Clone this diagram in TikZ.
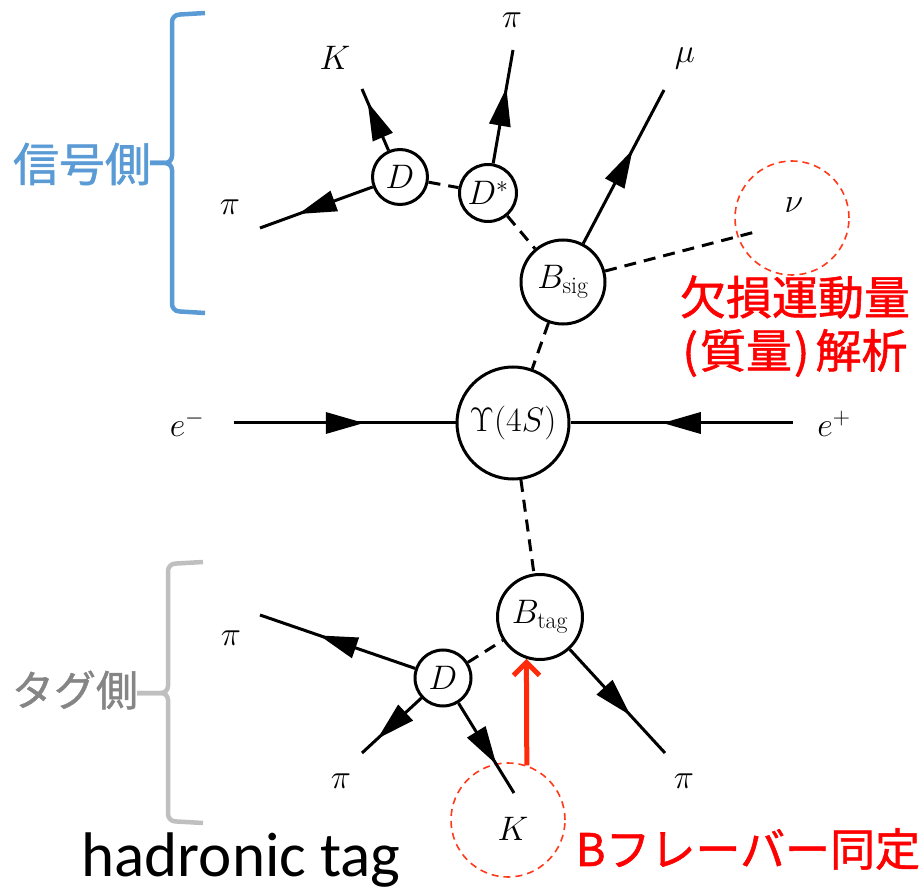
\RequirePackage{fix-cm}
\documentclass[tikz,border=0pt]{standalone}
\usepackage{fontspec}
\newfontfamily\cjkfont{Noto Sans CJK JP}[FakeBold=1.2]
\newfontfamily\calibrifont{Carlito}
\usetikzlibrary{decorations.markings,arrows.meta}
\definecolor{sigblue}{HTML}{5B9BD5}
\definecolor{taggray}{HTML}{858585}
\definecolor{brgray}{HTML}{BFBFBF}
\definecolor{txtred}{HTML}{FF0000}
\definecolor{circred}{HTML}{FF3A1A}
\definecolor{arrred}{HTML}{FF2A0A}
\begin{document}
\begin{tikzpicture}[x=1pt,y=-1pt,line width=3pt,
  part/.style={draw,circle,line width=3pt,inner sep=1pt,font=\fontsize{34}{40}\selectfont},
  lab/.style={inner sep=0pt,anchor=base,font=\fontsize{34}{40}\selectfont},
  fwd/.style={postaction={decorate},decoration={markings,
     mark=at position 0.5 with {\fill (19pt,0pt) -- (-19pt,11pt) -- (-19pt,-11pt) -- cycle;}}},
  dsh/.style={dash pattern=on 12pt off 8pt},
  redc/.style={draw=circred,circle,line width=1.6pt,dash pattern=on 7pt off 5pt,inner sep=0pt},
  redarrow/.style={draw=arrred,line width=5pt,-{Straight Barb[length=13pt,width=26pt]}},
  bigcjk/.style={inner sep=0pt,font=\cjkfont\fontsize{46}{50}\selectfont},
  bracket/.style={line width=4.5pt,rounded corners=7pt}
]
\useasboundingbox (0,0) rectangle (922,893);

% particle circles
\node[part,minimum size=112pt] (Y) at (513,423) {$\Upsilon(4S)$};
\node[part,minimum size=84pt] (Bs) at (563,282) {$B_{\mathrm{sig}}$};
\node[part,minimum size=57pt] (Dst) at (488,193) {$D^*$};
\node[part,minimum size=55pt] (Ds) at (400,177) {$D$};
\node[part,minimum size=85pt] (Bt) at (540,617) {$B_{\mathrm{tag}}$};
\node[part,minimum size=56pt] (Dt) at (443,678) {$D$};

% free ends
\coordinate (em) at (234,423);
\coordinate (ep) at (793,423);
\coordinate (piA) at (513,50);
\coordinate (kA) at (362,89);
\coordinate (piB) at (260,228);
\coordinate (muA) at (664,90);
\coordinate (nuA) at (755,232);
\coordinate (piC) at (260,615);
\coordinate (piD) at (362,753);
\coordinate (kB) at (514,793);
\coordinate (piE) at (665,753);

% labels
\node[lab] (lem) at (187,437) {$e^-$};
\node[lab] (lep) at (834,437) {$e^+$};
\node[lab] (lpiA) at (512,28) {$\pi$};
\node[lab] (lkA) at (335,70) {$K$};
\node[lab] (lpiB) at (230,215) {$\pi$};
\node[lab] (lmu) at (685,63) {$\mu$};
\node[lab] (lnu) at (794,213) {$\nu$};
\node[lab] (lpiC) at (231,645) {$\pi$};
\node[lab] (lpiD) at (341,788) {$\pi$};
\node[lab] (lkB) at (513,840) {$K$};
\node[lab] (lpiE) at (684,788) {$\pi$};

% red dashed circles
\node[redc,minimum size=114pt] (nuc) at (792,218) {};
\node[redc,minimum size=114pt] (kc) at (508,820) {};

% solid lines with arrows
\draw[fwd] (em) -- (Y);
\draw[fwd] (ep) -- (Y);
\draw[fwd] (Dst) -- (piA);
\draw[fwd] (Ds) -- (kA);
\draw[fwd] (Ds) -- (piB);
\draw[fwd] (Bs) -- (muA);
\draw[fwd] (Dt) -- (piC);
\draw[fwd] (Dt) -- (piD);
\draw[fwd] (Dt) -- (kB);
\draw[fwd] (Bt) -- (piE);

% dashed lines
\draw[dsh] (Ds) -- (Dst);
\draw[dsh] (Dst) -- (Bs);
\draw[dsh] (Bs) -- (nuA);
\draw[dsh] (Bs) -- (Y);
\draw[dsh] (Y) -- (Bt);
\draw[dsh] (Dt) -- (Bt);

% red arrow
\draw[redarrow] (kc.71) -- (Bt.252);

% brackets
\draw[bracket,sigblue] (205,13) -- (172,15) -- (172,163) -- (150,163);
\draw[bracket,sigblue] (150,163) -- (172,163) -- (172,311) -- (205,313);
\draw[bracket,brgray] (203,562) -- (168,564) -- (168,693) -- (137,693);
\draw[bracket,brgray] (137,693) -- (168,693) -- (168,821) -- (203,823);

% texts
\node[bigcjk,text=sigblue] (tsig) at (82,164) {信号側};
\node[bigcjk,text=taggray,font=\cjkfont\fontsize{42}{46}\selectfont] (ttag) at (75,690) {タグ側};
\node[bigcjk,text=txtred] (tmiss1) at (795,297) {欠損運動量};
\node[bigcjk,text=txtred] (tmiss2) at (795,353) {(\kern2pt 質量\kern2pt)\kern6pt 解析};
\node[bigcjk,text=txtred,font=\cjkfont\fontsize{45}{50}\selectfont] (tflav) at (748,849) {Bフレーバー同定};
\node[inner sep=0pt,anchor=base west,font=\calibrifont\fontsize{63}{70}\selectfont] (thad) at (80,876) {hadronic tag};
\end{tikzpicture}
\end{document}
